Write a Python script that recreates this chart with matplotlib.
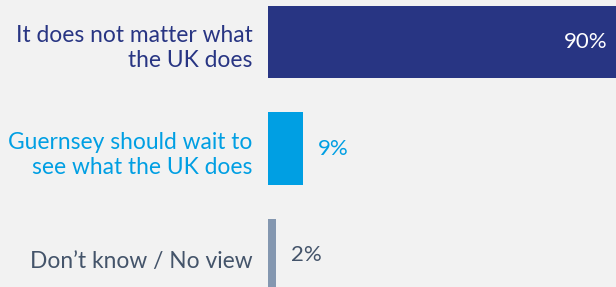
import matplotlib
matplotlib.use("Agg")
import matplotlib.pyplot as plt

categories = ["It does not matter what\nthe UK does", "Guernsey should wait to\nsee what the UK does", "Don\u2019t know / No view"]
values = [90, 9, 2]
value_labels = ["90%", "9%", "2%"]
bar_colors = ["#283583", "#009fe3", "#8497b0"]
label_colors = ["#283583", "#009fe3", "#44546a"]
value_colors = ["#ffffff", "#009fe3", "#44546a"]

plt.rcParams['font.family'] = ['Lato', 'DejaVu Sans']
bg = "#f2f2f2"
fig = plt.figure(figsize=(6.16, 2.87), dpi=100, facecolor=bg)
W, H = 616, 287
ax = fig.add_axes([268 / W, 0, (W - 268) / W, 1])
ax.set_facecolor(bg)
ypos = list(range(len(values)))
ax.barh(ypos, values, height=0.676, color=bar_colors)
ax.set_xlim(0, 348 / 3.88)
ax.set_ylim(2.30, -0.394)
ax.axis("off")

for i, (v, lab) in enumerate(zip(values, value_labels)):
    if i == 0:
        ax.text(v - 2.6, i, lab, ha="right", va="center", color=value_colors[i], fontsize=16)
    else:
        ax.text(v + 3.9, i, lab, ha="left", va="center", color=value_colors[i], fontsize=16)

for i, cat in enumerate(categories):
    ax.text(-4.0, i + 0.06, cat, ha="right", va="center", color=label_colors[i],
            fontsize=16.4, linespacing=1.25, clip_on=False)

fig.savefig("out.png", dpi=100, facecolor=bg)
